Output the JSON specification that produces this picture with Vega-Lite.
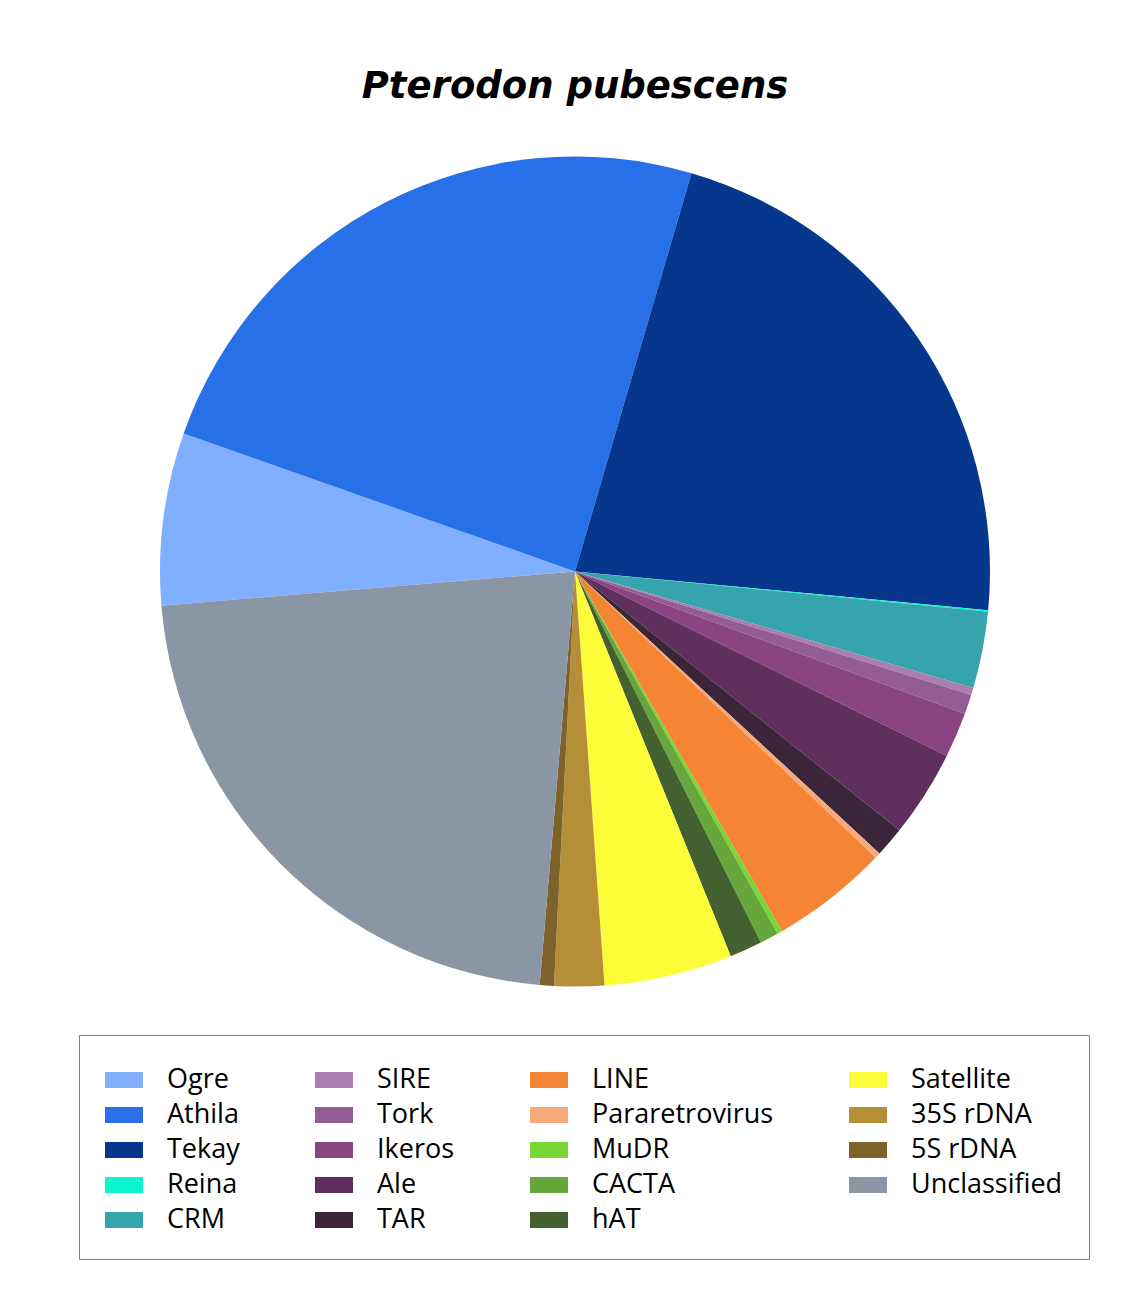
{
  "$schema": "https://vega.github.io/schema/vega-lite/v6.json",
  "autosize": {"type": "none"},
  "width": 1118,
  "height": 863,
  "padding": {"left": 16, "top": 140, "right": 0, "bottom": 305},
  "background": "white",
  "title": {
    "text": "Pterodon pubescens",
    "font": "DejaVu Sans",
    "fontSize": 37,
    "fontWeight": "bold",
    "fontStyle": "italic",
    "color": "#000000",
    "anchor": "middle",
    "baseline": "alphabetic",
    "offset": 5
  },
  "data": {
    "values": [
      {"type": "Ogre", "pct": 6.71, "ord": 1},
      {"type": "Athila", "pct": 24.13, "ord": 2},
      {"type": "Tekay", "pct": 21.96, "ord": 3},
      {"type": "Reina", "pct": 0.06, "ord": 4},
      {"type": "CRM", "pct": 2.98, "ord": 5},
      {"type": "SIRE", "pct": 0.28, "ord": 6},
      {"type": "Tork", "pct": 0.76, "ord": 7},
      {"type": "Ikeros", "pct": 1.77, "ord": 8},
      {"type": "Ale", "pct": 3.38, "ord": 9},
      {"type": "TAR", "pct": 1.17, "ord": 10},
      {"type": "Pararetrovirus", "pct": 0.22, "ord": 11},
      {"type": "LINE", "pct": 4.58, "ord": 12},
      {"type": "MuDR", "pct": 0.2, "ord": 13},
      {"type": "CACTA", "pct": 0.72, "ord": 14},
      {"type": "hAT", "pct": 1.27, "ord": 15},
      {"type": "Satellite", "pct": 4.99, "ord": 16},
      {"type": "35S rDNA", "pct": 1.94, "ord": 17},
      {"type": "5S rDNA", "pct": 0.55, "ord": 18},
      {"type": "Unclassified", "pct": 22.33, "ord": 19}
    ]
  },
  "mark": {"type": "arc", "outerRadius": 415, "stroke": null},
  "encoding": {
    "theta": {"field": "pct", "type": "quantitative", "stack": true, "scale": {"range": [4.6299, 10.9131]}},
    "order": {"field": "ord", "type": "quantitative"},
    "color": {
      "field": "type",
      "type": "nominal",
      "scale": {
        "domain": ["Ogre", "Athila", "Tekay", "Reina", "CRM", "SIRE", "Tork", "Ikeros", "Ale", "TAR", "LINE", "Pararetrovirus", "MuDR", "CACTA", "hAT", "Satellite", "35S rDNA", "5S rDNA", "Unclassified"],
        "range": ["#80AFFF", "#2870E8", "#06378C", "#0AF5D2", "#36A4AC", "#A87FAE", "#945C94", "#8A4482", "#5F305E", "#3A2638", "#F58534", "#F5AA7C", "#78D636", "#66A63B", "#436130", "#FCFC38", "#B58F38", "#7D622B", "#8B96A5"]
      },
      "legend": {
        "title": null,
        "orient": "none",
        "legendX": 63,
        "legendY": 895,
        "columns": 4,
        "columnPadding": 75,
        "rowPadding": 3,
        "padding": 26,
        "strokeColor": "#808080",
        "fillColor": "#ffffff",
        "symbolType": "M-1,-0.42H1V0.42H-1Z",
        "symbolSize": 1444,
        "symbolStrokeWidth": 0,
        "symbolOpacity": 1,
        "labelFont": "Open Sans",
        "labelFontSize": 27,
        "labelOffset": 24,
        "labelLimit": 400,
        "labelBaseline": "middle",
        "encode": {
          "labels": {
            "update": {
              "fill": {"signal": "datum.value === 'MuDR' ? '#5f5f5f' : '#111111'"}
            }
          }
        }
      }
    }
  },
  "config": {"view": {"stroke": null}}
}
